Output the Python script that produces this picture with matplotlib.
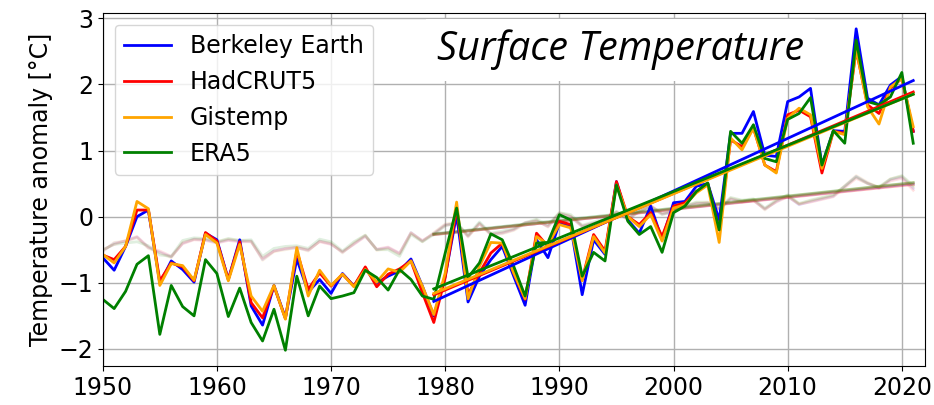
import numpy as np
import matplotlib
matplotlib.use("Agg")
import matplotlib.pyplot as plt

years = np.arange(1950, 2022)

# regional anomalies [degC]
berkeley = [-0.62, -0.81, -0.45, 0.00, 0.10, -1.01, -0.67, -0.80, -0.99, -0.25,
            -0.35, -0.95, -0.35, -1.35, -1.64, -1.04, -1.53, -0.64, -1.14, -0.95,
            -1.16, -0.86, -1.05, -0.79, -1.00, -0.90, -0.82, -0.64, -1.05, -1.50,
            -0.90, 0.03, -1.29, -0.90, -0.65, -0.45, -0.90, -1.34, -0.35, -0.62,
            -0.10, -0.15, -1.18, -0.35, -0.57, 0.53, -0.05, -0.25, 0.16, -0.35,
            0.21, 0.23, 0.46, 0.50, -0.05, 1.26, 1.26, 1.59, 0.93, 0.91,
            1.74, 1.81, 1.94, 0.78, 1.30, 1.29, 2.84, 1.79, 1.69, 1.99,
            2.12, 1.29]
hadcrut = [-0.58, -0.65, -0.45, 0.10, 0.10, -0.97, -0.70, -0.76, -0.97, -0.24,
           -0.37, -0.95, -0.38, -1.30, -1.53, -1.05, -1.54, -0.52, -1.10, -0.85,
           -1.05, -0.87, -1.05, -0.76, -1.06, -0.87, -0.79, -0.67, -1.15, -1.60,
           -0.92, 0.13, -1.18, -0.85, -0.55, -0.40, -0.85, -1.25, -0.25, -0.45,
           -0.07, -0.12, -0.95, -0.27, -0.52, 0.53, 0.00, -0.12, 0.06, -0.30,
           0.16, 0.21, 0.38, 0.50, -0.20, 1.16, 1.06, 1.34, 0.78, 0.68,
           1.54, 1.61, 1.51, 0.66, 1.29, 1.26, 2.52, 1.69, 1.56, 1.94,
           2.09, 1.29]
gistemp = [-0.57, -0.70, -0.45, 0.23, 0.12, -1.04, -0.71, -0.74, -0.96, -0.27,
           -0.40, -0.97, -0.42, -1.20, -1.43, -1.04, -1.55, -0.47, -1.20, -0.81,
           -1.04, -0.87, -1.06, -0.80, -0.99, -0.79, -0.84, -0.67, -1.05, -1.48,
           -0.85, 0.22, -1.24, -0.75, -0.39, -0.40, -0.85, -1.24, -0.30, -0.42,
           -0.12, -0.17, -0.97, -0.30, -0.55, 0.48, 0.00, -0.15, 0.03, -0.37,
           0.13, 0.18, 0.36, 0.48, -0.39, 1.19, 1.01, 1.34, 0.78, 0.66,
           1.49, 1.64, 1.54, 0.73, 1.29, 1.24, 2.54, 1.66, 1.40, 1.96,
           2.09, 1.36]
era5 = [-1.25, -1.39, -1.13, -0.72, -0.59, -1.78, -1.04, -1.36, -1.50, -0.65,
        -0.86, -1.51, -1.08, -1.60, -1.88, -1.40, -2.02, -0.90, -1.50, -1.05,
        -1.24, -1.20, -1.15, -0.81, -0.92, -1.11, -0.80, -0.95, -1.20, -1.25,
        -0.55, 0.13, -0.92, -0.70, -0.26, -0.35, -0.75, -1.20, -0.40, -0.39,
        0.03, -0.05, -0.90, -0.54, -0.67, 0.48, -0.07, -0.27, -0.15, -0.54,
        0.06, 0.16, 0.38, 0.51, -0.20, 1.29, 1.11, 1.39, 0.88, 0.83,
        1.47, 1.56, 1.80, 0.78, 1.30, 1.11, 2.67, 1.74, 1.69, 1.81,
        2.18, 1.11]

# global means (faded lines)
glob_berkeley = [-0.52, -0.40, -0.37, -0.31, -0.47, -0.54, -0.61, -0.40, -0.34, -0.35,
                 -0.39, -0.35, -0.37, -0.37, -0.65, -0.52, -0.49, -0.47, -0.51, -0.37,
                 -0.41, -0.54, -0.41, -0.29, -0.50, -0.47, -0.56, -0.24, -0.37, -0.25,
                 -0.12, -0.10, -0.30, -0.10, -0.27, -0.25, -0.20, -0.10, -0.06, -0.15,
                 0.05, 0.00, -0.15, -0.10, -0.05, 0.06, -0.04, 0.08, 0.16, 0.05,
                 0.08, 0.16, 0.20, 0.20, 0.11, 0.27, 0.23, 0.25, 0.11, 0.23,
                 0.31, 0.18, 0.23, 0.27, 0.31, 0.46, 0.61, 0.51, 0.43, 0.56,
                 0.60, 0.43]
glob_hadcrut = [-0.50, -0.42, -0.36, -0.30, -0.46, -0.52, -0.60, -0.41, -0.35, -0.36,
                -0.40, -0.36, -0.38, -0.38, -0.63, -0.52, -0.48, -0.46, -0.50, -0.38,
                -0.42, -0.53, -0.42, -0.30, -0.49, -0.46, -0.55, -0.25, -0.36, -0.26,
                -0.13, -0.11, -0.29, -0.11, -0.26, -0.24, -0.19, -0.09, -0.07, -0.14,
                0.04, 0.00, -0.14, -0.10, -0.06, 0.07, -0.03, 0.07, 0.17, 0.04,
                0.07, 0.15, 0.19, 0.21, 0.12, 0.26, 0.22, 0.24, 0.12, 0.22,
                0.30, 0.19, 0.22, 0.26, 0.30, 0.44, 0.58, 0.50, 0.44, 0.54,
                0.58, 0.40]
glob_gistemp = [-0.53, -0.39, -0.37, -0.32, -0.48, -0.55, -0.62, -0.39, -0.34, -0.34,
                -0.38, -0.34, -0.36, -0.37, -0.66, -0.53, -0.50, -0.47, -0.52, -0.37,
                -0.40, -0.55, -0.40, -0.28, -0.51, -0.48, -0.57, -0.24, -0.38, -0.24,
                -0.11, -0.09, -0.31, -0.10, -0.28, -0.26, -0.21, -0.11, -0.05, -0.16,
                0.06, 0.01, -0.16, -0.11, -0.04, 0.07, -0.05, 0.09, 0.15, 0.06,
                0.09, 0.17, 0.21, 0.21, 0.12, 0.28, 0.24, 0.26, 0.10, 0.24,
                0.32, 0.19, 0.24, 0.28, 0.32, 0.47, 0.62, 0.52, 0.44, 0.57,
                0.61, 0.45]
glob_era5 = [-0.50, -0.42, -0.40, -0.38, -0.44, -0.58, -0.60, -0.36, -0.32, -0.33,
             -0.38, -0.33, -0.36, -0.35, -0.60, -0.48, -0.45, -0.44, -0.48, -0.34,
             -0.38, -0.52, -0.38, -0.28, -0.50, -0.50, -0.60, -0.27, -0.38, -0.27,
             -0.14, -0.09, -0.28, -0.08, -0.25, -0.22, -0.18, -0.09, -0.04, -0.12,
             0.06, 0.03, -0.13, -0.08, -0.03, 0.08, -0.02, 0.09, 0.15, 0.03,
             0.08, 0.16, 0.22, 0.22, 0.13, 0.29, 0.25, 0.27, 0.13, 0.25,
             0.33, 0.20, 0.25, 0.29, 0.33, 0.46, 0.60, 0.50, 0.45, 0.57,
             0.62, 0.47]

labels = ["Berkeley Earth", "HadCRUT5", "Gistemp", "ERA5"]
colors = ["blue", "red", "orange", "green"]
regional = [berkeley, hadcrut, gistemp, era5]
glob = [glob_berkeley, glob_hadcrut, glob_gistemp, glob_era5]
trend_start = 1979

fig, ax = plt.subplots(figsize=(9.34, 4.05), dpi=100)
fig.subplots_adjust(left=0.110, right=0.990, bottom=0.096, top=0.968)

tsel = years >= trend_start
for gseries, col in zip(glob, colors):
    g = np.array(gseries)
    ax.plot(years, g, color=col, lw=2, alpha=0.12)
    p = np.polyfit(years[tsel], g[tsel], 1)
    ax.plot(years[tsel], np.polyval(p, years[tsel]), color=col, lw=2, alpha=0.3)

for series, col, lab in zip(regional, colors, labels):
    ax.plot(years, series, color=col, lw=2, label=lab)

# linear trends since 1979
for series, col in zip(regional, colors):
    s = np.array(series)
    p = np.polyfit(years[tsel], s[tsel], 1)
    ax.plot(years[tsel], np.polyval(p, years[tsel]), color=col, lw=2)

ax.set_xlim(1950, 2022)
ax.set_ylim(-2.26, 3.08)
ax.set_xticks(range(1950, 2021, 10))
ax.set_yticks(range(-2, 4))
ax.tick_params(labelsize=17)
ax.grid(True, color="#b0b0b0", lw=1)
ax.set_ylabel("Temperature anomaly [°C]", fontsize=17)

ax.legend(loc="upper left", fontsize=17, framealpha=0.8)

ax.text(0.63, 0.895, "Surface Temperature", transform=ax.transAxes,
        ha="center", va="center", fontsize=28.5, family="Open Sans",
        style="italic", weight="medium",
        bbox=dict(facecolor="white", edgecolor="none", pad=8), zorder=5)

plt.savefig("out.png", dpi=100)
